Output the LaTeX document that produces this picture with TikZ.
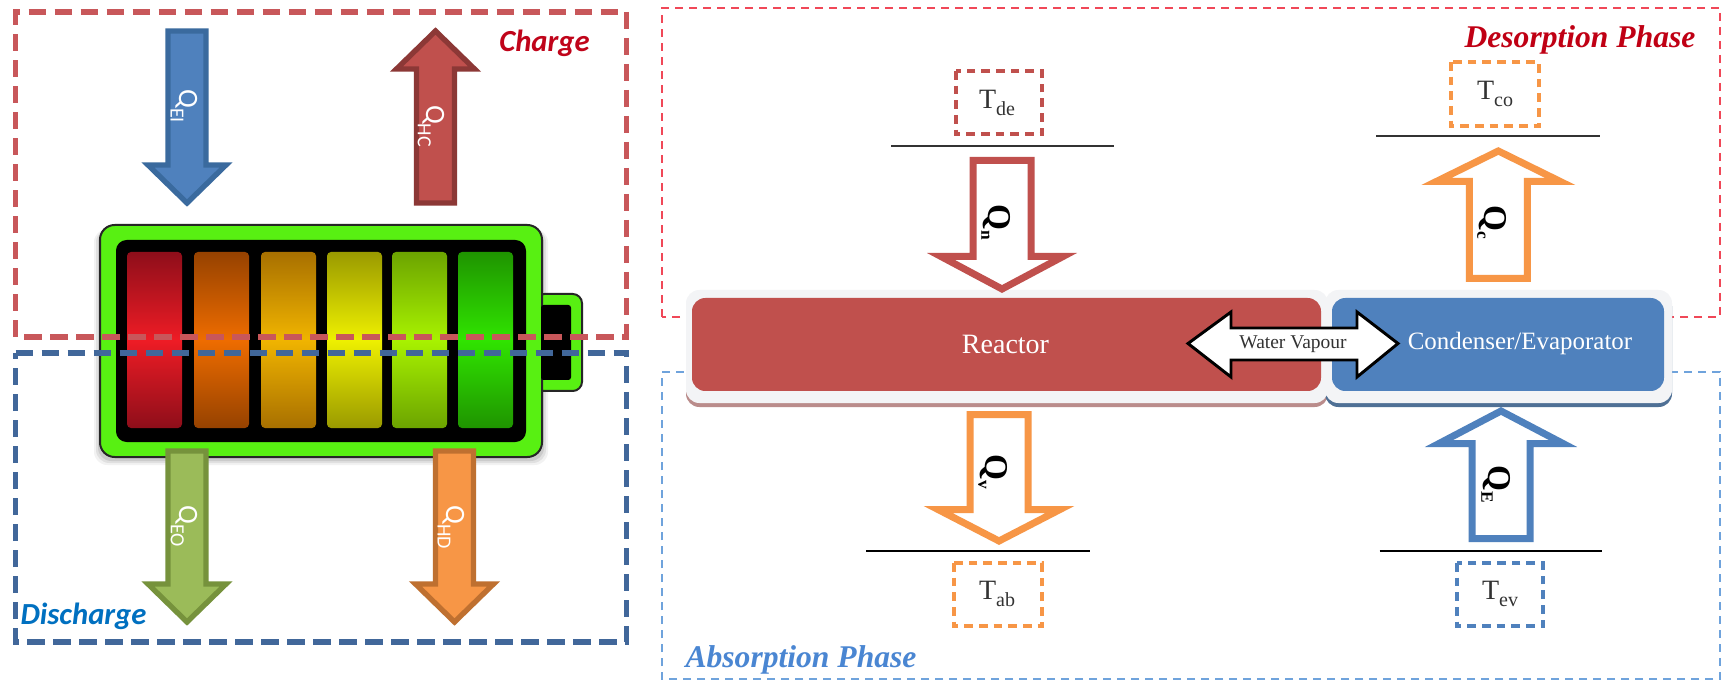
\documentclass[tikz,border=0pt]{standalone}
\usepackage{fontspec}
\setmainfont{Liberation Serif}
\newfontfamily\calfont{Carlito}
\usetikzlibrary{calc}
\definecolor{cred}{HTML}{C0504D}
\definecolor{credd}{HTML}{8C3836}
\definecolor{cblue}{HTML}{4F81BD}
\definecolor{cblued}{HTML}{3A6A9E}
\definecolor{cgreen}{HTML}{9BBB59}
\definecolor{cgreend}{HTML}{76923C}
\definecolor{corange}{HTML}{F79646}
\definecolor{coranged}{HTML}{BF7030}
\definecolor{dashred}{HTML}{C8575A}
\definecolor{dashblue}{HTML}{41679A}
\definecolor{thinred}{HTML}{F04858}
\definecolor{thinblue}{HTML}{6FA3DC}
\definecolor{batgreen}{HTML}{58F012}
\definecolor{bevel}{HTML}{F3F4F6}
\definecolor{txtcharge}{HTML}{C0041A}
\definecolor{txtdis}{HTML}{0070C0}
\definecolor{txtdes}{HTML}{C00014}
\definecolor{txtabs}{HTML}{4A86D2}
\definecolor{cellAd}{HTML}{8E0E1A}\definecolor{cellAm}{HTML}{EE1C25}
\definecolor{cellBd}{HTML}{964200}\definecolor{cellBm}{HTML}{EE6C00}
\definecolor{cellCd}{HTML}{A87000}\definecolor{cellCm}{HTML}{F0B400}
\definecolor{cellDd}{HTML}{9A9A00}\definecolor{cellDm}{HTML}{EEF000}
\definecolor{cellEd}{HTML}{6CA400}\definecolor{cellEm}{HTML}{A8F200}
\definecolor{cellFd}{HTML}{1F9400}\definecolor{cellFm}{HTML}{30E400}
\newcommand{\qfill}[2]{{\calfont\fontsize{21}{21}\selectfont #1\raisebox{-.3em}{\fontsize{15}{15}\selectfont #2}}}
\newcommand{\qbold}[1]{{\bfseries\fontsize{25}{25}\selectfont Q\raisebox{-.22em}{\fontsize{13}{13}\selectfont #1}}}
\newcommand{\tsub}[1]{{\fontsize{21}{21}\selectfont T\raisebox{-.28em}{\fontsize{15}{15}\selectfont #1}}}
% #1 style, #2 centre x, #3 tail y, #4 head base y, #5 tip y, #6 half shaft, #7 half head
\newcommand{\blockarrow}[7]{\draw[#1] ({#2-#6},#3) -- ({#2+#6},#3) -- ({#2+#6},#4) -- ({#2+#7},#4) -- (#2,#5) -- ({#2-#7},#4) -- ({#2-#6},#4) -- cycle;}
\newcommand{\batcell}[3]{\shade[rounded corners=3pt,top color=#3d,bottom color=#3d,middle color=#3m] (#1,252) rectangle (#2,428);}
\tikzset{
 x=0.75pt,y=-0.75pt,
 solidarrow/.style={line width=4pt,miter limit=12,draw=#1},
 hollowarrow/.style={line width=5.25pt,miter limit=12,draw=#1,fill=white},
 bigdash/.style={line width=4.2pt,dash pattern=on 13pt off 6.5pt,draw=#1},
 thindash/.style={line width=1.6pt,dash pattern=on 6pt off 4.5pt,draw=#1},
 tempbox/.style={line width=2.3pt,dash pattern=on 6.5pt off 4.5pt,draw=#1},
 baseline/.style={line width=2pt,draw=#1},
 qlabel/.style={rotate=-90,text=white,inner sep=0pt},
 qblack/.style={rotate=-90,text=black,inner sep=0pt},
 phasetext/.style={font=\bfseries\itshape\fontsize{23.7}{24}\selectfont,text=#1,inner sep=0pt},
 modetext/.style={font=\calfont\bfseries\itshape\fontsize{23}{23}\selectfont,text=#1,inner sep=0pt},
 ttext/.style={text=black!80,inner sep=0pt},
 panel/.style={rounded corners=10pt,fill=#1,draw=none},
}
\begin{document}
\begin{tikzpicture}
\useasboundingbox (0,0) rectangle (1722,680);
\fill[white] (0,0) rectangle (1722,680);

% ---------- right: phase frames
\draw[thindash=thinred] (662,317) -- (662,8) -- (1720,8) -- (1720,317) -- cycle;
\draw[thindash=thinblue] (662,372) -- (1720,372) -- (1720,679) -- (662,679) -- cycle;

% ---------- battery
\foreach \g/\o in {6/.05,4/.07,2/.09}{
  \fill[black,opacity=\o,rounded corners=10pt] (100-\g,225+4) rectangle (542+\g,457+\g+2);
}
\fill[batgreen,draw=black!85,line width=1.5pt,rounded corners=7pt] (535,294) rectangle (582,391);
\fill[batgreen,draw=black!85,line width=1.5pt,rounded corners=11pt] (100,225) rectangle (542,457);
\fill[black,rounded corners=8pt] (116,240) rectangle (526,442);
\fill[black,rounded corners=2pt] (541,305) rectangle (571,380);
\batcell{127}{182}{cellA}
\batcell{194}{249}{cellB}
\batcell{261}{316}{cellC}
\batcell{327}{382}{cellD}
\batcell{392}{447}{cellE}
\batcell{458}{513}{cellF}

% ---------- left: frames
\draw[bigdash=dashred] (15.5,337) -- (15.5,12) -- (626.5,12) -- (626.5,337) -- cycle;
\draw[bigdash=dashblue] (15.5,353) -- (626.5,353) -- (626.5,642) -- (15.5,642) -- cycle;

% ---------- left: arrows
\blockarrow{solidarrow=cblued,fill=cblue}{187}{31}{165}{203}{19}{39}
\blockarrow{solidarrow=credd,fill=cred}{435.5}{203}{69}{31}{19}{39}
\blockarrow{solidarrow=cgreend,fill=cgreen}{187}{451}{584}{622}{19}{39}
\blockarrow{solidarrow=coranged,fill=corange}{454.5}{451}{584}{622}{19}{39}
\node[qlabel] (qei) at (184,106) {\qfill{Q}{EI}};
\node[qlabel] (qhc) at (431,126) {\qfill{Q}{HC}};
\node[qlabel] (qeo) at (184,526) {\qfill{Q}{EO}};
\node[qlabel] (qhd) at (451,527) {\qfill{Q}{HD}};
\node[modetext=txtcharge] (charge) at (544.5,43) {Charge};
\node[modetext=txtdis] (discharge) at (83.5,616) {Discharge};

% ---------- right: panels
\fill[panel=cred!55!gray!75] (686,293) rectangle (1328,407);
\fill[panel=cblued!70!gray] (1325,293) rectangle (1672,407);
\fill[panel=bevel] (686,290) rectangle (1328,403);
\fill[panel=bevel] (1325,290) rectangle (1672,403);
\fill[panel=cred] (692,298) rectangle (1321,391);
\fill[panel=cblue] (1332,298) rectangle (1664,391);
\node[text=white,inner sep=0pt,font=\fontsize{21}{21}\selectfont] (reactor) at (1005.5,344) {Reactor};
\node[text=white,inner sep=0pt,font=\fontsize{18.7}{18.7}\selectfont] (condenser) at (1520,344) {Condenser/Evaporator};

% ---------- right: water vapour double arrow
\draw[line width=2.2pt,draw=black,fill=white,miter limit=8] (1188,343.5) -- (1231,312) -- (1231,328) -- (1357,328) -- (1357,312) -- (1398,343.5) -- (1357,377) -- (1357,360) -- (1231,360) -- (1231,377) -- cycle;
\node[text=black!80,inner sep=0pt,font=\fontsize{14.6}{14.6}\selectfont] (water) at (1293,344) {Water Vapour};

% ---------- right: heat arrows
\blockarrow{hollowarrow=cred}{1002}{160.5}{256.5}{289}{29}{61}
\blockarrow{hollowarrow=corange}{1498.3}{278.5}{181.5}{151}{29}{62}
\blockarrow{hollowarrow=corange}{999}{414.5}{509.5}{541}{29}{61}
\blockarrow{hollowarrow=cblue}{1501}{538.5}{443.5}{411}{29}{62}
\node[qblack] (qn) at (996,222) {\qbold{n}};
\node[qblack] (qc) at (1492,222) {\qbold{c}};
\node[qblack] (qa) at (993,472) {\qbold{v}};
\node[qblack] (qe) at (1496,484) {\qbold{E}};

% ---------- right: baselines
\draw[baseline=black!80] (891,146) -- (1113.5,146);
\draw[baseline=black!80] (1376,136) -- (1600,136);
\draw[baseline=black] (866,551) -- (1090,551);
\draw[baseline=black] (1379.5,551) -- (1602,551);

% ---------- right: temperature boxes
\draw[tempbox=cred] (956,71) rectangle (1042,134);
\draw[tempbox=corange] (1451,62) rectangle (1539,126);
\draw[tempbox=corange] (954,563) rectangle (1042,626);
\draw[tempbox=cblue] (1457,563) rectangle (1543,626);
\node[ttext] (tde) at (997,103) {\tsub{de}};
\node[ttext] (tco) at (1495,94) {\tsub{co}};
\node[ttext] (tab) at (997,594) {\tsub{ab}};
\node[ttext] (tev) at (1500,594) {\tsub{ev}};

\node[phasetext=txtdes] (desorption) at (1580,40) {Desorption Phase};
\node[phasetext=txtabs] (absorption) at (801,660) {Absorption Phase};
\end{tikzpicture}
\end{document}
